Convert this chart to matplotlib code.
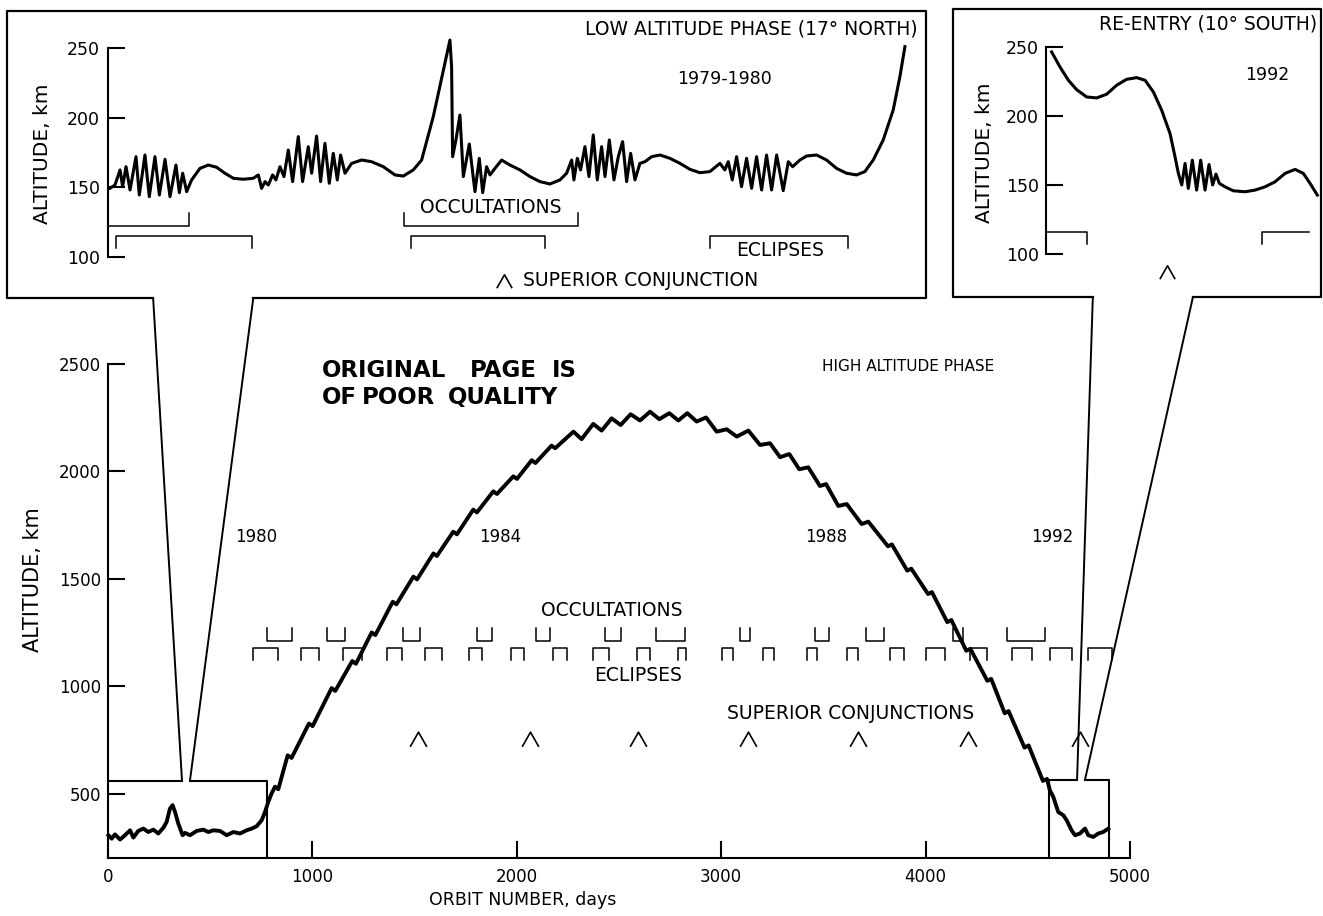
import matplotlib.pyplot as plt
from matplotlib.patches import ConnectionPatch

plt.rcParams['font.family'] = ['DejaVu Sans']
plt.rcParams['font.size'] = 12

# ---- high altitude phase (orbit number, altitude km) ----
orbit_main = [2, 18, 34, 59, 83, 108, 124, 148, 173, 197, 222, 246, 271, 287, 303, 316, 328, 344,
              365, 377, 401, 434, 466, 491, 515, 548, 581, 613, 646, 678, 703, 727, 752, 768, 784, 800,
              817, 833, 879, 898, 983, 1001, 1094, 1112, 1195, 1213, 1290, 1308, 1393, 1411, 1494, 1512,
              1592, 1609, 1689, 1707, 1787, 1805, 1885, 1903, 1983, 2001, 2073, 2091, 2170, 2188,
              2277, 2317, 2374, 2415, 2464, 2508, 2557, 2603, 2652, 2697, 2746, 2790, 2834, 2880, 2926,
              2978, 3027, 3076, 3133, 3190, 3239, 3288, 3333, 3382, 3426, 3483, 3513, 3573, 3614, 3687, 3720,
              3816, 3835, 3910, 3930, 4012, 4031, 4106, 4126, 4199, 4219, 4302, 4321, 4387, 4406, 4484, 4504,
              4574, 4594, 4608, 4625, 4649, 4674, 4690, 4714, 4731, 4755, 4780, 4796, 4820, 4845, 4869, 4894]
alt_main = [306, 290, 310, 286, 306, 329, 295, 326, 337, 321, 332, 314, 341, 368, 430, 446, 414, 360,
            306, 317, 306, 326, 332, 321, 329, 326, 306, 321, 314, 329, 337, 348, 376, 414, 461, 500,
            532, 520, 678, 666, 826, 814, 991, 978, 1117, 1104, 1250, 1238, 1393, 1381, 1510, 1497,
            1618, 1606, 1719, 1707, 1822, 1809, 1907, 1895, 1977, 1965, 2052, 2039, 2120, 2108,
            2185, 2150, 2221, 2190, 2247, 2216, 2266, 2237, 2278, 2243, 2271, 2237, 2271, 2232, 2251,
            2185, 2196, 2162, 2190, 2123, 2131, 2066, 2081, 2010, 2019, 1932, 1941, 1839, 1848, 1755, 1766,
            1651, 1660, 1538, 1547, 1429, 1438, 1298, 1308, 1165, 1174, 1025, 1034, 874, 884, 714, 724,
            559, 568, 515, 484, 414, 399, 376, 329, 306, 314, 337, 306, 298, 314, 321, 337]

occ_start = [778, 1071, 1443, 1805, 2094, 2431, 2681, 3092, 3459, 3708, 4134, 4398]
occ_end = [900, 1159, 1526, 1879, 2162, 2510, 2823, 3141, 3527, 3796, 4183, 4584]
ecl_start = [709, 944, 1150, 1365, 1551, 1766, 1972, 2177, 2373, 2588, 2789, 3004, 3204, 3419,
             3615, 3826, 4002, 4217, 4422, 4608, 4794]
ecl_end = [832, 1032, 1243, 1438, 1634, 1830, 2035, 2245, 2451, 2652, 2828, 3058, 3258, 3468,
           3669, 3894, 4094, 4300, 4520, 4716, 4912]
sup_conj = [1517, 2064, 2593, 3131, 3669, 4207, 4755]
year_labels = ['1980', '1984', '1988', '1992']
year_orbit = [726, 1920, 3512, 4619]
stamp_words = ['ORIGINAL', 'PAGE', 'IS', 'OF', 'POOR', 'QUALITY']
stamp_orbit = [1047, 1771, 2172, 1047, 1243, 1663]
stamp_alt = [2470, 2470, 2470, 2344, 2344, 2344]

# ---- low altitude phase inset (1979-1980) ----
orbit_low = [1.9, 6.8, 11.7, 14.2, 17.5, 21.4, 27.2, 30.4, 35.9, 40.1,
             45.6, 49.9, 55.4, 60.2, 66.0, 69.3, 72.5, 76.4, 81.2, 89.3,
             97.4, 105.5, 113.6, 121.7, 131.4, 141.1, 146.0, 149.2, 152.5, 155.7,
             159.9, 163.1, 167.0, 170.9, 175.1, 179.3, 184.8, 189.0, 194.5, 197.8,
             202.6, 206.5, 210.7, 214.9, 218.8, 222.7, 225.9, 230.2, 236.6, 246.3,
             256.0, 267.4, 278.7, 286.8, 296.5, 304.6, 315.9, 332.1, 333.7, 334.7,
             337.9, 341.8, 345.1, 350.9,
             356.4, 360.6, 363.9, 367.7, 371.0, 375.8, 382.3, 390.4, 400.1, 409.8,
             419.5, 429.2, 438.9, 445.4, 450.3, 452.5, 455.8, 459.0, 463.2, 467.1,
             471.3, 475.2, 479.4, 482.7, 486.9, 491.4, 495.6, 499.8, 503.7, 507.6,
             511.8, 516.6, 521.5, 528.0, 536.1, 545.8, 555.5, 565.2, 574.9, 584.6,
             594.3, 599.1, 602.4, 606.3, 610.5, 615.3, 620.2, 625.1, 629.9, 634.8,
             639.6, 644.5, 649.4, 655.8, 660.7, 664.9, 672.0, 678.5, 688.2, 697.9,
             707.6, 717.3, 727.0, 735.1, 743.2, 752.9, 762.6, 769.1, 774.0]
alt_low = [149.3, 151.7, 162.5, 150.5, 164.8, 148.1, 172.0, 144.5, 173.2, 143.3,
           172.0, 144.5, 170.1, 143.3, 166.0, 146.2, 160.1, 146.9, 155.3, 163.6,
           166.0, 164.4, 160.1, 156.5, 155.8, 156.5, 158.9, 149.3, 154.1, 151.7,
           158.9, 155.3, 164.8, 157.7, 176.8, 154.1, 186.4, 154.1, 179.2, 160.1,
           186.8, 154.1, 181.6, 152.9, 174.4, 155.3, 173.2, 160.1, 167.2, 169.6,
           168.4, 164.8, 158.9, 158.1, 162.5, 169.6, 200.7, 255.7, 236.6, 172.0,
           184.0, 201.9, 157.7, 181.1,
           146.9, 170.8, 146.2, 164.8, 158.9, 163.6, 169.6, 166.0, 162.5, 157.7,
           154.1, 152.4, 155.3, 160.1, 169.6, 155.3, 170.8, 162.5, 179.2, 157.7,
           187.6, 155.3, 179.2, 157.7, 184.0, 155.3, 172.0, 182.8, 154.1, 174.4,
           155.3, 167.2, 168.4, 172.0, 173.2, 170.8, 167.2, 162.9, 160.5, 161.3,
           167.2, 162.5, 168.4, 155.3, 172.0, 150.5, 170.8, 149.3, 172.0, 148.1,
           173.2, 148.1, 173.2, 147.6, 168.4, 164.8, 169.6, 172.5, 173.2, 169.6,
           163.6, 160.1, 158.9, 161.3, 169.6, 184.0, 205.5, 229.4, 251.0]
low_occ = [(0, 79), (287, 456)]
low_ecl = [(8, 140), (294, 424), (585, 719)]
low_sup_conj = [385]

# ---- re-entry inset (1992) ----
orbit_re = [4610.1, 4619.1, 4628.1, 4637.0, 4647.8, 4658.6, 4669.4, 4680.1, 4690.9, 4701.7,
            4710.7, 4719.7, 4728.6, 4737.6, 4743.0, 4746.6, 4750.2, 4753.8, 4757.3, 4761.6,
            4766.3, 4770.6, 4775.3, 4779.6, 4783.5, 4787.1, 4790.7, 4796.8, 4805.8, 4818.4,
            4829.2, 4840.0, 4850.7, 4861.5, 4872.3, 4881.2, 4888.4, 4896.3]
alt_re = [246.4, 235.5, 225.9, 219.1, 213.8, 213.1, 215.8, 222.3, 226.6, 227.8,
          225.9, 217.4, 204.2, 187.3, 170.4, 158.4, 150.0, 165.6, 147.5, 168.0,
          146.3, 168.0, 146.3, 164.8, 150.0, 157.9, 151.2, 148.7, 145.8, 145.1,
          146.3, 148.7, 152.3, 158.4, 161.3, 158.4, 151.2, 142.7]
re_ecl = [(4604, 4648), (4837, 4887)]
re_sup_conj = [4734]

# zoomed regions of the main plot (orbit min, orbit max, alt min, alt max)
LOW_BOX = (0, 776, 200, 560)
RE_BOX = (4604, 4897, 200, 565)

W, H = 1323, 916
CAP = 13.5  # caption font size


def fig_box(x0, y0, x1, y1):
    # pixel box (origin top-left) -> figure fraction rect
    return [x0 / W, 1 - y1 / H, (x1 - x0) / W, (y1 - y0) / H]


caret = [(-1, -0.88), (0, 0.88), (1, -0.88)]
fig = plt.figure(figsize=(W / 100, H / 100), dpi=100)

# ================= main axes =================
ax = fig.add_axes(fig_box(108, 364, 1130, 858))
ax.patch.set_visible(False)
ax.set_xlim(0, 5000)
ax.set_ylim(200, 2500)
for s in ['top', 'right']:
    ax.spines[s].set_visible(False)
for s in ['left', 'bottom']:
    ax.spines[s].set_linewidth(1.5)
ax.set_xticks([0, 1000, 2000, 3000, 4000, 5000])
ax.set_yticks([500, 1000, 1500, 2000, 2500])
ax.tick_params(direction='in', length=12, width=1.5, labelsize=12)
ax.tick_params(axis='x', pad=7)
ax.tick_params(axis='y', pad=5)
ax.set_xlabel('ORBIT NUMBER, days', fontsize=12.5)
ax.xaxis.set_label_coords(0.406, -0.066)
ax.set_ylabel('ALTITUDE, km', fontsize=15)
ax.yaxis.set_label_coords(-0.064, 0.563)

ax.plot(orbit_main, alt_main, color='black', lw=2.8, solid_joinstyle='round', clip_on=False)

for x0, x1 in zip(occ_start, occ_end):
    ax.plot([x0, x0, x1, x1], [1269, 1211, 1211, 1269], color='black', lw=1.1)
for x0, x1 in zip(ecl_start, ecl_end):
    ax.plot([x0, x0, x1, x1], [1121, 1176, 1176, 1121], color='black', lw=1.1)
ax.plot(sup_conj, [755] * len(sup_conj), ls='none', marker=caret, ms=12,
        mfc='none', mec='black', mew=1.2)

ax.text(2466, 1354, 'OCCULTATIONS', ha='center', va='center', fontsize=CAP)
ax.text(2593, 1051, 'ECLIPSES', ha='center', va='center', fontsize=CAP)
ax.text(3634, 874, 'SUPERIOR CONJUNCTIONS', ha='center', va='center', fontsize=CAP)
ax.text(3914, 2487, 'HIGH ALTITUDE PHASE', ha='center', va='center', fontsize=11)
for lab, xo in zip(year_labels, year_orbit):
    ax.text(xo, 1695, lab, ha='center', va='center', fontsize=12)
for w, xo, yo in zip(stamp_words, stamp_orbit, stamp_alt):
    ax.text(xo, yo, w, ha='left', va='center', fontsize=16.5, fontweight='bold')

# zoom boxes in the main plot
lx0, lx1, ly0, ly1 = LOW_BOX
rx0, rx1, ry0, ry1 = RE_BOX
low_gap = (362, 401)
re_gap = (4741, 4780)
ax.plot([low_gap[0], lx0], [ly1, ly1], color='black', lw=1.5)
ax.plot([low_gap[1], lx1, lx1], [ly1, ly1, ly0], color='black', lw=1.5)
ax.plot([re_gap[0], rx0, rx0], [ry1, ry1, ry0], color='black', lw=1.5)
ax.plot([re_gap[1], rx1, rx1], [ry1, ry1, ry0], color='black', lw=1.5)


def inset_style(a, pad):
    a.patch.set_visible(False)
    for s in ['top', 'right', 'bottom']:
        a.spines[s].set_visible(False)
    a.spines['left'].set_linewidth(1.5)
    a.set_xticks([])
    a.set_yticks([100, 150, 200, 250])
    a.set_ylim(100, 250)
    a.tick_params(axis='y', direction='in', length=12, width=1.5, labelsize=12.5, pad=pad)
    a.set_ylabel('ALTITUDE, km', fontsize=14.5)


def frame(box, gap_a, gap_b):
    f = fig.add_axes(fig_box(*box))
    f.set_axis_off()
    f.plot([gap_a, 0, 0, 1, 1, gap_b], [0, 0, 1, 1, 0, 0], color='black', lw=1.6,
           transform=f.transAxes, clip_on=False)
    return f


# ================= low altitude inset =================
frL = frame((7, 11, 926, 298), 0.159, 0.268)
axL = fig.add_axes(fig_box(108, 48, 907, 257))
inset_style(axL, 6)
axL.set_xlim(lx0, lx1)
axL.yaxis.set_label_coords(-0.07, 0.493)
axL.plot(orbit_low, alt_low, color='black', lw=2.2, clip_on=False)
for x0, x1 in low_occ:
    axL.plot([x0, x0, x1, x1], [131.6, 122.2, 122.2, 131.6], color='black', lw=1.1, clip_on=False)
for x0, x1 in low_ecl:
    axL.plot([x0, x0, x1, x1], [106.5, 115.1, 115.1, 106.5], color='black', lw=1.1, clip_on=False)
axL.plot(low_sup_conj, [83] * len(low_sup_conj), ls='none', marker=caret, ms=11,
         mfc='none', mec='black', mew=1.2, clip_on=False)
axL.text(403, 83, 'SUPERIOR CONJUNCTION', ha='left', va='center', fontsize=CAP)
axL.text(372, 135.5, 'OCCULTATIONS', ha='center', va='center', fontsize=CAP)
axL.text(653, 104.7, 'ECLIPSES', ha='center', va='center', fontsize=CAP)
axL.text(599, 228, '1979-1980', ha='center', va='center', fontsize=12.5)
axL.text(786, 263.6, 'LOW ALTITUDE PHASE (17° NORTH)', ha='right', va='center', fontsize=CAP)

# ================= re-entry inset =================
frR = frame((953, 9, 1321, 297), 0.380, 0.652)
axR = fig.add_axes(fig_box(1046, 47, 1318, 254))
inset_style(axR, 5)
axR.set_xlim(rx0, rx1)
axR.yaxis.set_label_coords(-0.19, 0.49)
axR.plot(orbit_re, alt_re, color='black', lw=2.2, clip_on=False)
axR.plot([re_ecl[0][0], re_ecl[0][1], re_ecl[0][1]], [115.7, 115.7, 107.2], color='black', lw=1.1)
axR.plot([re_ecl[1][0], re_ecl[1][0], re_ecl[1][1]], [107.2, 115.7, 115.7], color='black', lw=1.1)
axR.plot(re_sup_conj, [87] * len(re_sup_conj), ls='none', marker=caret, ms=11,
         mfc='none', mec='black', mew=1.2, clip_on=False)
axR.text(4842, 230, '1992', ha='center', va='center', fontsize=12.5)
axR.text(4896, 266.8, 'RE-ENTRY (10° SOUTH)', ha='right', va='center', fontsize=CAP)

# connector lines from inset frames to zoom boxes
for f, ga, gb, gap, top in [(frL, 0.159, 0.268, low_gap, ly1),
                            (frR, 0.380, 0.652, re_gap, ry1)]:
    for g, xg in [(ga, gap[0]), (gb, gap[1])]:
        cp = ConnectionPatch(xyA=(g, 0), coordsA=f.transAxes, xyB=(xg, top), coordsB=ax.transData,
                             color='black', lw=1.4)
        fig.add_artist(cp)

fig.savefig('out.png', dpi=100, facecolor='white')
